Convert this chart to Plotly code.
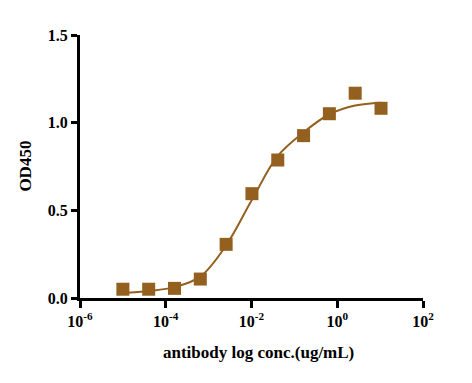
import plotly.graph_objects as go

conc = [1e-5, 4e-5, 1.6e-4, 6.4e-4, 2.56e-3, 1.024e-2, 4.1e-2, 0.164, 0.655, 2.62, 10.5]
od450 = [0.050, 0.050, 0.055, 0.108, 0.306, 0.595, 0.787, 0.926, 1.051, 1.168, 1.082]

# fitted curve
curve_x = [1e-5, 4e-5, 1.6e-4, 6.4e-4, 2.56e-3, 1.024e-2, 4.1e-2, 0.164, 0.655, 2.62, 10.5]
curve_y = [0.028, 0.040, 0.062, 0.122, 0.300, 0.560, 0.810, 0.945, 1.048, 1.098, 1.114]

tick_vals = [1e-6, 1e-4, 1e-2, 1e0, 1e2]
tick_text = ["10<sup>-6</sup>", "10<sup>-4</sup>", "10<sup>-2</sup>", "10<sup>0</sup>", "10<sup>2</sup>"]
y_ticks = [0, 0.5, 1.0, 1.5]
y_text = ["0.0", "0.5", "1.0", "1.5"]

color = "#93601F"
font = "Liberation Serif"

fig = go.Figure()
fig.add_trace(go.Scatter(x=curve_x, y=curve_y, mode="lines",
                         line=dict(color=color, width=2, shape="spline"),
                         hoverinfo="skip", showlegend=False))
fig.add_trace(go.Scatter(x=conc, y=od450, mode="markers",
                         marker=dict(symbol="square", size=13, color=color),
                         showlegend=False))

fig.update_layout(
    width=464, height=375,
    margin=dict(l=72, r=49, t=27, b=85),
    plot_bgcolor="white", paper_bgcolor="white",
    font=dict(family=font, size=16, color="black"),
)
fig.update_xaxes(type="log", range=[-6, 2], tickvals=tick_vals,
                 ticktext=["<b>%s</b>" % t for t in tick_text], automargin=False,
                 showgrid=False, zeroline=False, showline=True, linecolor="black",
                 linewidth=3, ticks="outside", ticklen=7, tickwidth=3, tickcolor="black",
                 tickfont=dict(family=font, size=16, color="black"))
fig.update_yaxes(range=[0, 1.5], tickvals=y_ticks, ticktext=["<b>%s</b>" % t for t in y_text],
                 automargin=False,
                 showgrid=False, zeroline=False, showline=True, linecolor="black",
                 linewidth=3, ticks="outside", ticklen=6, tickwidth=3, tickcolor="black",
                 tickfont=dict(family=font, size=16, color="black"))
fig.add_annotation(text="<b>antibody log conc.(ug/mL)</b>", xref="paper", yref="paper",
                   x=0.52, y=-0.209, xanchor="center", yanchor="middle", showarrow=False,
                   font=dict(family=font, size=17, color="black"))
fig.add_annotation(text="<b>OD450</b>", xref="paper", yref="paper", textangle=-90,
                   x=-0.16, y=0.5, xanchor="center", yanchor="middle", showarrow=False,
                   font=dict(family=font, size=17, color="black"))
fig.write_html("out.html")
